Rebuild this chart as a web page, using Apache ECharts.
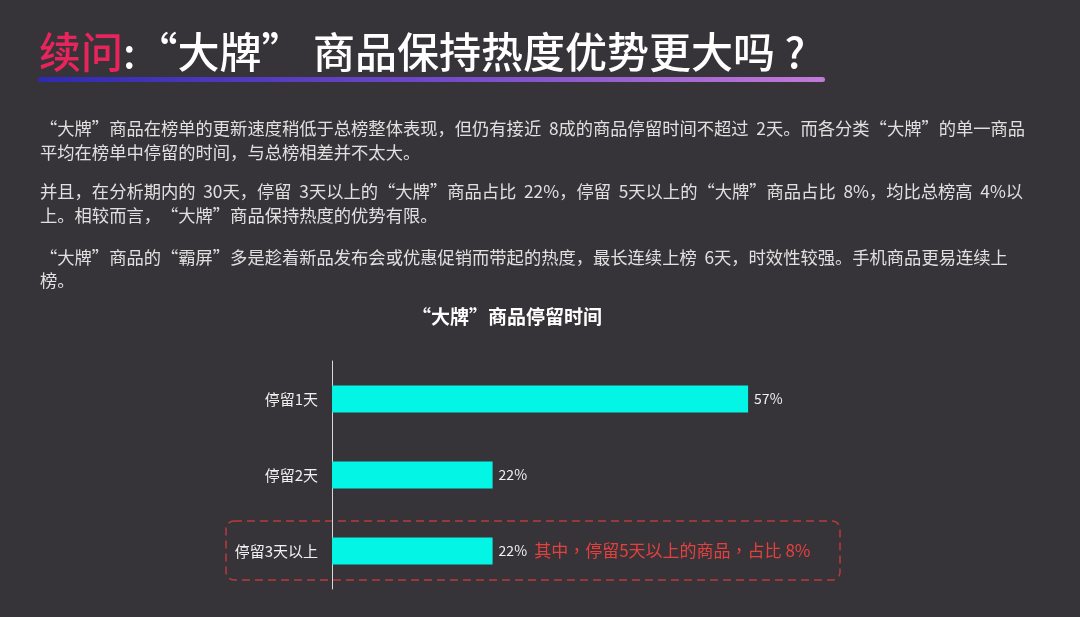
<!DOCTYPE html>
<html>
<head>
<meta charset="utf-8">
<script src="https://cdn.jsdelivr.net/npm/echarts@6/dist/echarts.min.js"></script>
<style>
html,body{margin:0;padding:0;background:#363438;}
#c{width:1080px;height:617px;}
</style>
</head>
<body>
<div id="c"></div>
<script>
// ---- data ----
const categories = ['停留1天', '停留2天', '停留3天以上'];
const values = [57, 22, 22];
const noteText = '其中，停留5天以上的商品，占比 8%';
const chartTitle = '“大牌”商品停留时间';
const pageTitleA = '续问';
const pageTitleB = ':“大牌” 商品保持热度优势更大吗 ?';
const paragraphLines = [
  '“大牌”商品在榜单的更新速度稍低于总榜整体表现，但仍有接近  8成的商品停留时间不超过  2天。而各分类“大牌”的单一商品',
  '平均在榜单中停留的时间，与总榜相差并不太大。',
  '并且，在分析期内的  30天，停留  3天以上的“大牌”商品占比  22%，停留  5天以上的“大牌”商品占比  8%，均比总榜高  4%以',
  '上。相较而言，“大牌”商品保持热度的优势有限。',
  '“大牌”商品的“霸屏”多是趁着新品发布会或优惠促销而带起的热度，最长连续上榜  6天，时效性较强。手机商品更易连续上',
  '榜。'
];
const lineY = [131, 155, 194, 218, 260, 283];

const FONT = '"Noto Sans CJK SC", "Noto Sans", sans-serif';
const FONT_TC = '"Noto Sans CJK TC", "Noto Sans CJK SC", sans-serif';
const chart = echarts.init(document.getElementById('c'), null, {renderer: 'canvas'});

const textGraphics = paragraphLines.map((t, i) => ({
  type: 'text', left: 40, top: lineY[i] - 11, silent: true,
  style: {text: t, fill: '#e0e0e0', font: '17.3px ' + FONT}
}));

const option = {
  backgroundColor: '#363438',
  title: {
    text: chartTitle,
    left: 502, top: 302, textAlign: 'center',
    textStyle: {color: '#ffffff', fontSize: 19, fontWeight: 'bold', fontFamily: FONT}
  },
  grid: {left: 332, right: 18, top: 361, bottom: 28, containLabel: false},
  xAxis: {type: 'value', min: 0, max: 100, show: false},
  yAxis: {
    type: 'category', data: categories, inverse: true,
    axisLine: {show: true, lineStyle: {color: '#d8d8d8', width: 1}},
    axisTick: {show: false},
    axisLabel: {color: '#f0f0f0', fontSize: 15, fontFamily: FONT, margin: 14}
  },
  series: [{
    type: 'bar', data: values, barWidth: 27,
    itemStyle: {color: '#02f5e5'},
    label: {
      show: true, position: 'right', distance: 6,
      color: '#f0f0f0', fontSize: 14, fontFamily: FONT,
      formatter: p => p.dataIndex === 2 ? p.value + '% {red|' + noteText + '}' : p.value + '%',
      rich: {red: {color: '#e6403e', fontSize: 17, fontFamily: FONT_TC, padding: [0, 0, 0, 4]}}
    }
  }],
  graphic: [
    {
      type: 'text', left: 39, top: 31, silent: true,
      style: {
        text: '{a|' + pageTitleA + '}{b|' + pageTitleB + '}',
        rich: {
          a: {fill: '#e8245c', font: '500 42px ' + FONT},
          b: {fill: '#ffffff', font: '500 42px ' + FONT}
        }
      }
    },
    {
      type: 'rect', shape: {x: 38, y: 77, width: 787, height: 5, r: 2.5}, silent: true,
      style: {fill: new echarts.graphic.LinearGradient(0, 0, 1, 0, [
        {offset: 0, color: '#2e2ab0'}, {offset: 0.5, color: '#7048c8'}, {offset: 1, color: '#c47ad8'}
      ])}
    }
  ].concat(textGraphics)
};
chart.setOption(option);

// annotation box around the third category band
const yc = chart.convertToPixel({yAxisIndex: 0}, categories[2]);
chart.setOption({
  graphic: option.graphic.concat([{
    type: 'rect', silent: true,
    shape: {x: 226, y: yc - 30, width: 614, height: 59, r: 8},
    style: {fill: 'none', stroke: '#b93a3d', lineWidth: 1.5, lineDash: [8, 5]}
  }])
});
</script>
</body>
</html>
